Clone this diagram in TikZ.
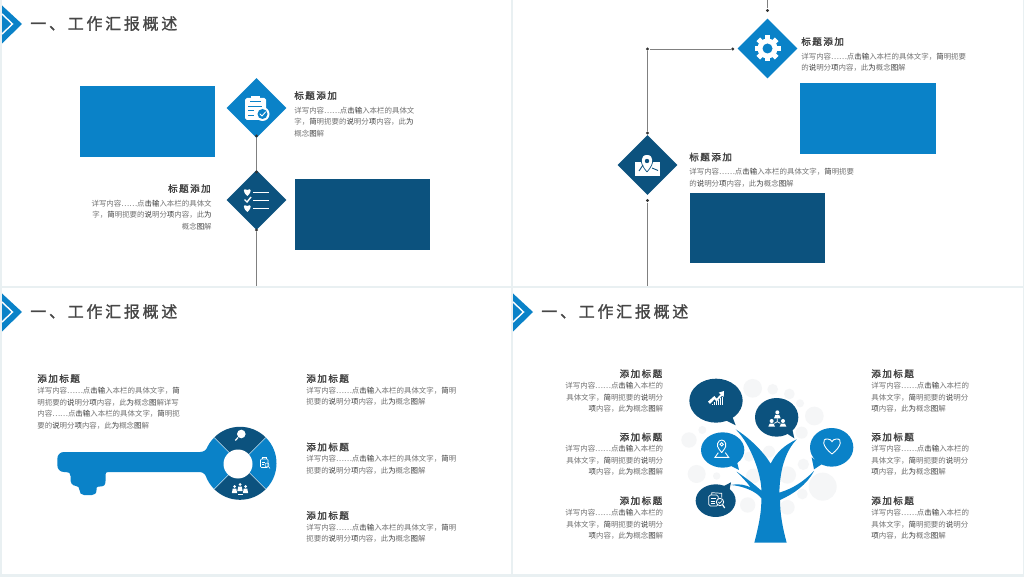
\documentclass[tikz,border=0pt]{standalone}
\usepackage{fontspec}
\usetikzlibrary{shapes.geometric}
\newfontfamily\cjk{Noto Sans CJK SC}
\newfontfamily\cjktitle[LetterSpace=17,FakeBold=1.3]{Noto Sans CJK SC}
\newfontfamily\cjkhead[LetterSpace=16,FakeBold=1.6]{Noto Sans CJK SC}
\definecolor{pageback}{HTML}{E9F0F2}
\definecolor{mainblue}{HTML}{0A82C8}
\definecolor{maindark}{HTML}{0C527E}
\definecolor{bubbleback}{HTML}{F5F6F7}
\def\bd#1{{\color{black!80}#1}}
\tikzset{
  titletext/.style={anchor=west,inner sep=0pt,text=black!72,font=\cjktitle\fontsize{9.1}{11}\selectfont},
  headtext/.style={inner sep=0pt,text=black!75,font=\cjkhead\fontsize{5.4}{6.5}\selectfont},
  bodytext/.style={inner sep=0pt,text=black!55,font=\cjk\fontsize{4.24}{6.52}\selectfont},
  leftbody/.style={bodytext,anchor=north west,align=left},
  rightbody/.style={bodytext,anchor=north east,align=right},
  bigdiamond/.style={diamond,shape aspect=1,inner sep=0pt,minimum size=1.2cm},
  linkdot/.style={circle,fill=black!80,inner sep=0pt,minimum size=1.9pt},
  linkline/.style={draw=black!50,line width=0.5pt},
  iconline/.style={draw=white,line width=0.5pt,line cap=round,line join=round},
}
\begin{document}
\begin{tikzpicture}[x=0.02cm,y=-0.02cm]

\def\logo#1#2#3{
\begin{scope}[shift={(#1,#2)}]
\fill[mainblue] (0,5.5) -- (20,24) -- (0,43.5) -- cycle;
\draw[white,line width=0.8pt] (0,14) -- (10.5,24) -- (0,34);
\node[titletext] (#3) at (28,23.5) {一、工作汇报概述};
\end{scope}
}

\useasboundingbox (0,0) rectangle (1024,577);
\fill[pageback] (0,0) rectangle (1024,577);
\fill[white] (2,0) rectangle (511,286);
\fill[white] (513,0) rectangle (1023,286);
\fill[white] (2,288) rectangle (511,574);
\fill[white] (513,288) rectangle (1023,574);

\logo{2}{0}{titleA}
\logo{2}{288}{titleC}
\logo{513}{288}{titleD}

% slide A
\fill[mainblue] (80,86) rectangle (215,157);
\fill[maindark] (295,179) rectangle (430,250);

\node[bigdiamond,fill=mainblue] (diaA) at (256.5,108) {};
\node[bigdiamond,fill=maindark] (diaB) at (256.5,200) {};
\node[linkdot] (dotA) at (256.5,136) {};
\node[linkdot] (dotB) at (256.5,172) {};
\node[linkdot] (dotC) at (256.5,230) {};
\coordinate (endA) at (256.5,286);
\draw[linkline] (dotA) -- (dotB);
\draw[linkline] (dotC) -- (endA);

% clipboard
\fill[white,rounded corners=1pt] (245,98) rectangle (266,120);
\fill[white] (251,96) rectangle (260,100);
\fill[mainblue] (250,101) rectangle (261,102.2);
\fill[mainblue] (248,106) rectangle (262,107);
\fill[mainblue] (248,110.5) rectangle (254,111.5);
\fill[mainblue] (248,115) rectangle (254,116);
\fill[white] (262.5,114) circle[radius=7];
\fill[mainblue] (262.5,114) circle[radius=5];
\draw[iconline] (260,114) -- (262,116) -- (265.5,112);

% list with hearts
\fill[white] (247.3,196) .. controls (242,191.5) and (243.5,187.5) .. (247.3,190) .. controls (251,187.5) and (252.6,191.5) .. (247.3,196);
\fill[white] (247.3,212) .. controls (242,207.5) and (243.5,203.5) .. (247.3,206) .. controls (251,203.5) and (252.6,207.5) .. (247.3,212);
\draw[white,line width=0.8pt] (244.5,199.5) -- (247,202) -- (251,197);
\foreach \y in {192.5,200.5,208.5}
  \draw[white,line width=0.6pt] (253,\y) -- (269,\y);

\node[headtext,anchor=west] (headA) at (294,95.5) {标题添加};
\node[leftbody] (bodyA) at (294,106.5) {详写内容⋯⋯点\bd{击输}入本栏的具体文\\字，\bd{简}明扼要的\bd{说}明分\bd{项}内容，此\bd{为}\\概念\bd{图}解};
\node[headtext,anchor=east] (headB) at (211,188.5) {标题添加};
\node[rightbody] (bodyB) at (212,199.5) {详写内容⋯⋯点\bd{击输}入本栏的具体文\\字，\bd{简}明扼要的\bd{说}明分\bd{项}内容，此\bd{为}\\概念\bd{图}解};

% slide B
\fill[mainblue] (800,83.5) rectangle (935.5,154);
\fill[maindark] (690,193) rectangle (825,263);

\node[bigdiamond,fill=mainblue] (diaC) at (767.5,48.5) {};
\node[bigdiamond,fill=maindark] (diaD) at (647.5,165) {};
\coordinate (endB) at (767.5,0);
\coordinate (endC) at (647.5,286);
\node[linkdot] (dotD) at (767.5,10.5) {};
\node[linkdot] (dotE) at (732.7,49) {};
\node[linkdot] (dotF) at (647.5,49) {};
\node[linkdot] (dotG) at (647.5,133) {};
\node[linkdot] (dotH) at (647.5,200.5) {};
\draw[linkline] (endB) -- (dotD);
\draw[linkline] (dotE) -- (dotF) -- (dotG);
\draw[linkline] (dotH) -- (endC);

% gear
\begin{scope}[shift={(767.5,48.5)}]
\foreach \a in {0,45,...,315}
  \fill[white,rotate=\a] (-2.6,-13) rectangle (2.6,0);
\fill[white] (0,0) circle[radius=10];
\fill[mainblue] (0,0) circle[radius=5];
\end{scope}

% map
\fill[white] (635,162) -- (659.7,162) -- (659.7,175.7) -- (635,175.7) -- cycle;
\fill[white] (647,171) .. controls (640,163) and (640,155) .. (647,155) .. controls (654,155) and (654,163) .. (647,171);
\draw[maindark,line width=0.4pt] (647,172) .. controls (639,163) and (639,154) .. (647,154) .. controls (655,154) and (655,163) .. (647,172);
\fill[maindark] (647,161) circle[radius=2.2];
\draw[maindark,line width=0.5pt] (639,171) -- (643,165);
\draw[maindark,line width=0.5pt] (652,168) -- (658,170.5);

\node[headtext,anchor=west] (headC) at (801,41.5) {标题添加};
\node[leftbody] (bodyC) at (801,52.5) {详写内容⋯⋯点\bd{击输}入本栏的具体文字，\bd{简}明扼要\\的\bd{说}明分\bd{项}内容，此\bd{为}概念\bd{图}解};
\node[headtext,anchor=west] (headD) at (689,157) {标题添加};
\node[leftbody] (bodyD) at (689,168) {详写内容⋯⋯点\bd{击输}入本栏的具体文字，\bd{简}明扼要\\的\bd{说}明分\bd{项}内容，此\bd{为}概念\bd{图}解};

% slide C
\node[headtext,anchor=west] (headE) at (37,378.5) {添加标题};
\node[leftbody] (bodyE) at (37,387) {详写内容⋯⋯点\bd{击输}入本栏的具体文字，\bd{简}\\明扼要的\bd{说}明分\bd{项}内容，此\bd{为}概念\bd{图}解详写\\内容⋯⋯点\bd{击输}入本栏的具体文字，\bd{简}明扼\\要的\bd{说}明分\bd{项}内容，此\bd{为}概念\bd{图}解};
\foreach \n/\y in {F/378.5,G/447,H/515.5} {
  \node[headtext,anchor=west] (head\n) at (306,\y) {添加标题};
  \node[leftbody] (body\n) at (306,\y+8.2) {详写内容⋯⋯点\bd{击输}入本栏的具体文字，\bd{简}明\\扼要的\bd{说}明分\bd{项}内容，此\bd{为}概念\bd{图}解};
}

% key
\fill[mainblue] (64,452) -- (200,452) .. controls (204,452) and (206,450) .. (210,445) -- (210,481)
  .. controls (206,476) and (204,472) .. (200,472) -- (108,472)
  .. controls (106,472) and (105.5,473) .. (105.5,475) -- (105.5,481)
  .. controls (105.5,485) and (104,486.5) .. (100,486.5) -- (98.5,486.5)
  .. controls (96.5,486.5) and (96.5,488) .. (96.5,490)
  .. controls (96.5,493.5) and (94.5,495) .. (92,495) -- (84,495)
  .. controls (81,495) and (79.5,493) .. (79.5,490)
  .. controls (79.5,487) and (78,486.5) .. (76,486)
  .. controls (72,485.5) and (70.5,483) .. (70.5,479) -- (70.5,476)
  .. controls (70.5,473) and (69,472) .. (66,472) -- (64,472)
  .. controls (60,472) and (57.3,469) .. (57.3,465) -- (57.3,459)
  .. controls (57.3,455) and (60,452) .. (64,452) -- cycle;
\begin{scope}[shift={(240,463.3)}]
\foreach \a/\c in {225/maindark,-45/mainblue,45/maindark,135/mainblue}
  \fill[\c] (\a:36.5) arc[start angle=\a,delta angle=90,radius=36.5] -- (0,0) -- cycle;
\foreach \a in {45,135,225,315}
  \draw[white,line width=0.2pt] (\a:36.5) -- (0,0);
\fill[white] (-2,0.7) circle[radius=14.5];
\end{scope}
% magnifier
\fill[white] (241.3,434) circle[radius=4.3];
\draw[white,line width=0.7pt] (238,437.5) -- (235.3,440.5);
% small report
\draw[white,line width=0.3pt,rounded corners=0.5pt] (260.5,459) rectangle (268,467.5);
\draw[white,line width=0.3pt] (262.5,459) -- (262.5,457) -- (266,457) -- (266,459);
\draw[white,line width=0.3pt] (262,462) -- (265,462);
\draw[white,line width=0.3pt] (262,464.5) -- (264,464.5);
\draw[white,line width=0.3pt] (267,465) circle[radius=2];
\draw[white,line width=0.3pt] (268.5,466.5) -- (270,468.5);
% people
\foreach \x/\y in {234.5/486.5,240/484.5,245.5/486.5}
  \fill[white] (\x,\y) circle[radius=1.5] (\x-2.6,\y+6.5) -- (\x-1.8,\y+2) -- (\x+1.8,\y+2) -- (\x+2.6,\y+6.5) -- cycle;
\fill[white] (237.5,494) rectangle (242.5,495);

% slide D
\begin{scope}[shift={(670,370)},x=0.02cm/3,y=-0.02cm/3]
\foreach \x/\y/\r in {248/55/28,308/58/16,358/72/16,390/100/12,433/138/28,395/188/18,400/283/17,458/350/42,397/372/16,352/412/22,352/315/26,297/245/18,250/318/22,237/260/15,233/405/23,80/312/27,140/318/11,57/210/23,97/180/12}
  \fill[bubbleback] (\x,\y) circle[radius=\r];

% tree
\fill[mainblue] (253,518) .. controls (268,460) and (275,420) .. (274,385)
  .. controls (260,365) and (220,348) .. (183,345)
  .. controls (210,340) and (225,345) .. (242,352)
  .. controls (230,335) and (212,318) .. (200,305)
  .. controls (230,325) and (255,345) .. (274,362)
  .. controls (275,320) and (245,225) .. (197,178)
  .. controls (240,205) and (280,245) .. (302,281)
  .. controls (320,245) and (345,225) .. (380,208)
  .. controls (350,240) and (330,290) .. (328,368)
  .. controls (370,355) and (400,335) .. (432,303)
  .. controls (410,345) and (370,372) .. (330,390)
  .. controls (330,430) and (338,475) .. (350,518) -- cycle;

% bubbles
\fill[maindark] (138,92) ellipse[x radius=80,y radius=66];
\fill[maindark] (165,150) -- (197,166) -- (185,135) -- cycle;
\fill[maindark] (320,142) ellipse[x radius=65,y radius=58];
\fill[maindark] (350,190) -- (373,205) -- (365,170) -- cycle;
\fill[mainblue] (485,232) ellipse[x radius=65,y radius=58];
\fill[mainblue] (425,262) -- (432,298) -- (455,283) -- cycle;
\fill[mainblue] (158,240) ellipse[x radius=65,y radius=53];
\fill[mainblue] (178,285) -- (207,300) -- (200,272) -- cycle;
\fill[maindark] (137,392) ellipse[x radius=60,y radius=49];
\fill[maindark] (158,350) -- (183,337) -- (178,362) -- cycle;

% chart
\foreach \x/\h in {125/5,131/9,137/13,143/17,149/21,155/25}
  \fill[white] (\x,106) rectangle (\x+3,106-\h);
\fill[white] (114,95) -- (133,78) -- (140,86) -- (152,73) -- (146,68) -- (162,63) -- (161,81) -- (156,77) -- (140,95) -- (133,88) -- (120,102) -- cycle;

% hierarchy
\fill[white] (322,127) circle[radius=6];
\fill[white] (312,145) -- (316,135) -- (328,135) -- (332,145) -- cycle;
\fill[white] (305,153) circle[radius=6];
\fill[white] (295,170) -- (299,161) -- (311,161) -- (315,170) -- cycle;
\fill[white] (339,153) circle[radius=6];
\fill[white] (329,170) -- (333,161) -- (345,161) -- (349,170) -- cycle;
\draw[white,line width=0.4pt] (322,145) -- (322,155) -- (313,160);
\draw[white,line width=0.4pt] (322,155) -- (331,160);

% heart
\draw[white,line width=0.5pt] (486,252) .. controls (455,228) and (455,205) .. (473,207) .. controls (480,207) and (484,211) .. (486,215) .. controls (488,211) and (492,207) .. (499,207) .. controls (517,205) and (517,228) .. (486,252);

% pin
\draw[white,line width=0.5pt] (155,248) .. controls (142,232) and (140,225) .. (143,220) .. controls (147,207) and (163,207) .. (167,220) .. controls (170,225) and (168,232) .. (155,248);
\draw[white,line width=0.5pt] (155,223) circle[radius=5];
\draw[white,line width=0.5pt] (145,248) -- (135,262) -- (176,262) -- (166,248);

% report
\draw[white,line width=0.4pt,rounded corners=1pt] (116,375) rectangle (145,408);
\draw[white,line width=0.4pt] (125,375) -- (125,368) -- (155,370) -- (155,383);
\draw[white,line width=0.4pt] (122,385) -- (138,385);
\draw[white,line width=0.4pt] (122,393) -- (134,393);
\draw[white,line width=0.4pt] (122,400) -- (134,400);
\fill[maindark] (150,396) circle[radius=11];
\draw[white,line width=0.5pt] (150,396) circle[radius=11];
\draw[white,line width=0.4pt] (145,396) -- (149,400) -- (156,392);
\draw[white,line width=0.7pt] (158,405) -- (164,414);
\end{scope}

\foreach \n/\y in {J/373.7,K/437,L/500.7} {
  \node[headtext,anchor=east] (head\n) at (662.5,\y) {添加标题};
  \node[rightbody] (body\n) at (663.5,\y+8.2) {详写内容⋯⋯点\bd{击输}入本栏的\\具体文字，\bd{简}明扼要的\bd{说}明分\\\bd{项}内容，此\bd{为}概念\bd{图}解};
  \node[headtext,anchor=west] (head\n r) at (871,\y) {添加标题};
  \node[leftbody] (body\n r) at (871,\y+8.2) {详写内容⋯⋯点\bd{击输}入本栏的\\具体文字，\bd{简}明扼要的\bd{说}明分\\\bd{项}内容，此\bd{为}概念\bd{图}解};
}

\end{tikzpicture}
\end{document}
